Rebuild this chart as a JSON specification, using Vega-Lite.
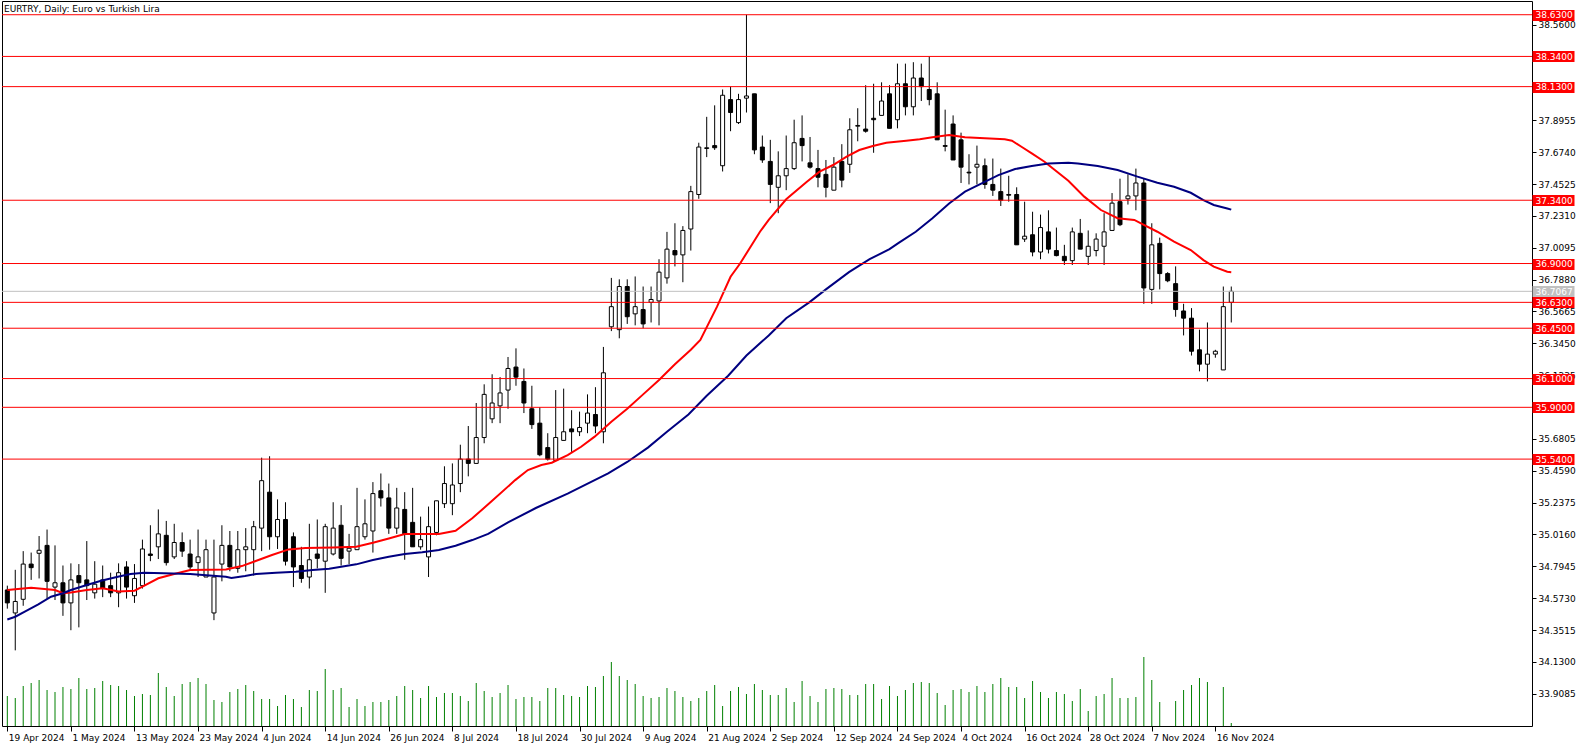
{
  "$schema": "https://vega.github.io/schema/vega-lite/v6.json",
  "width": 1530,
  "height": 725,
  "autosize": "none",
  "padding": {"left": 2, "top": 1, "right": 54, "bottom": 24},
  "background": "white",
  "config": {
    "view": {"stroke": "#000000", "strokeWidth": 1},
    "axis": {"labelFont": "DejaVu Sans", "labelFontSize": 9, "labelColor": "#000000", "grid": false, "domain": false}
  },
  "title": {"text": "EURTRY, Daily:  Euro vs Turkish Lira", "anchor": "start", "frame": "group", "orient": "top", "offset": -13, "dx": 2, "font": "DejaVu Sans", "fontSize": 9, "fontWeight": "normal", "color": "#000000"},
  "datasets": {
    "candles": [
      {"bar":0,"date":"2024-04-19","open":34.63,"high":34.66,"low":34.50,"close":34.54,"volume":30000},
      {"bar":1,"date":"2024-04-22","open":34.47,"high":34.77,"low":34.21,"close":34.55,"volume":28000},
      {"bar":2,"date":"2024-04-23","open":34.565,"high":34.90,"low":34.52,"close":34.81,"volume":40000},
      {"bar":3,"date":"2024-04-24","open":34.81,"high":34.89,"low":34.70,"close":34.785,"volume":43000},
      {"bar":4,"date":"2024-04-25","open":34.885,"high":35.005,"low":34.71,"close":34.906,"volume":46000},
      {"bar":5,"date":"2024-04-26","open":34.94,"high":35.05,"low":34.57,"close":34.69,"volume":36000},
      {"bar":6,"date":"2024-04-29","open":34.65,"high":34.94,"low":34.56,"close":34.68,"volume":34000},
      {"bar":7,"date":"2024-04-30","open":34.68,"high":34.80,"low":34.45,"close":34.54,"volume":39000},
      {"bar":8,"date":"2024-05-01","open":34.54,"high":34.815,"low":34.35,"close":34.70,"volume":37000},
      {"bar":9,"date":"2024-05-02","open":34.73,"high":34.81,"low":34.37,"close":34.68,"volume":48000},
      {"bar":10,"date":"2024-05-03","open":34.70,"high":34.97,"low":34.56,"close":34.66,"volume":37000},
      {"bar":11,"date":"2024-05-06","open":34.61,"high":34.83,"low":34.57,"close":34.67,"volume":38000},
      {"bar":12,"date":"2024-05-07","open":34.70,"high":34.80,"low":34.58,"close":34.64,"volume":45000},
      {"bar":13,"date":"2024-05-08","open":34.66,"high":34.75,"low":34.58,"close":34.61,"volume":41000},
      {"bar":14,"date":"2024-05-09","open":34.61,"high":34.815,"low":34.51,"close":34.75,"volume":40000},
      {"bar":15,"date":"2024-05-10","open":34.79,"high":34.83,"low":34.57,"close":34.65,"volume":36000},
      {"bar":16,"date":"2024-05-13","open":34.59,"high":34.81,"low":34.54,"close":34.71,"volume":30000},
      {"bar":17,"date":"2024-05-14","open":34.66,"high":34.98,"low":34.64,"close":34.915,"volume":32000},
      {"bar":18,"date":"2024-05-15","open":34.88,"high":35.08,"low":34.83,"close":34.87,"volume":31000},
      {"bar":19,"date":"2024-05-16","open":34.93,"high":35.19,"low":34.845,"close":35.02,"volume":53000},
      {"bar":20,"date":"2024-05-17","open":35.01,"high":35.11,"low":34.80,"close":34.82,"volume":39000},
      {"bar":21,"date":"2024-05-20","open":34.86,"high":35.09,"low":34.845,"close":34.96,"volume":30000},
      {"bar":22,"date":"2024-05-21","open":34.96,"high":35.03,"low":34.86,"close":34.90,"volume":42000},
      {"bar":23,"date":"2024-05-22","open":34.88,"high":34.98,"low":34.77,"close":34.79,"volume":44000},
      {"bar":24,"date":"2024-05-23","open":34.82,"high":35.05,"low":34.72,"close":34.86,"volume":48000},
      {"bar":25,"date":"2024-05-24","open":34.72,"high":34.98,"low":34.72,"close":34.91,"volume":42000},
      {"bar":26,"date":"2024-05-27","open":34.47,"high":34.98,"low":34.42,"close":34.72,"volume":26000},
      {"bar":27,"date":"2024-05-28","open":34.81,"high":35.08,"low":34.69,"close":34.94,"volume":24000},
      {"bar":28,"date":"2024-05-29","open":34.94,"high":35.04,"low":34.76,"close":34.79,"volume":34000},
      {"bar":29,"date":"2024-05-30","open":34.78,"high":35.04,"low":34.75,"close":34.91,"volume":37000},
      {"bar":30,"date":"2024-05-31","open":34.91,"high":35.06,"low":34.76,"close":34.93,"volume":41000},
      {"bar":31,"date":"2024-06-03","open":34.91,"high":35.11,"low":34.73,"close":35.07,"volume":35000},
      {"bar":32,"date":"2024-06-04","open":35.06,"high":35.55,"low":34.90,"close":35.39,"volume":27000},
      {"bar":33,"date":"2024-06-05","open":35.31,"high":35.56,"low":34.91,"close":35.00,"volume":27000},
      {"bar":34,"date":"2024-06-06","open":35.00,"high":35.26,"low":34.915,"close":35.12,"volume":20000},
      {"bar":35,"date":"2024-06-07","open":35.12,"high":35.24,"low":34.80,"close":34.83,"volume":31000},
      {"bar":36,"date":"2024-06-10","open":35.00,"high":35.03,"low":34.65,"close":34.79,"volume":27000},
      {"bar":37,"date":"2024-06-11","open":34.80,"high":34.93,"low":34.68,"close":34.71,"volume":19000},
      {"bar":38,"date":"2024-06-12","open":34.72,"high":35.09,"low":34.64,"close":34.84,"volume":36000},
      {"bar":39,"date":"2024-06-13","open":34.88,"high":35.12,"low":34.78,"close":34.85,"volume":35000},
      {"bar":40,"date":"2024-06-14","open":34.83,"high":35.09,"low":34.61,"close":35.07,"volume":57000},
      {"bar":41,"date":"2024-06-17","open":34.88,"high":35.24,"low":34.87,"close":35.06,"volume":36000},
      {"bar":42,"date":"2024-06-18","open":35.08,"high":35.22,"low":34.80,"close":34.85,"volume":38000},
      {"bar":43,"date":"2024-06-19","open":34.90,"high":35.02,"low":34.81,"close":34.92,"volume":19000},
      {"bar":44,"date":"2024-06-20","open":34.91,"high":35.34,"low":34.91,"close":35.07,"volume":27000},
      {"bar":45,"date":"2024-06-21","open":35.00,"high":35.26,"low":34.98,"close":35.09,"volume":20000},
      {"bar":46,"date":"2024-06-24","open":35.04,"high":35.38,"low":34.89,"close":35.30,"volume":24000},
      {"bar":47,"date":"2024-06-25","open":35.32,"high":35.44,"low":35.21,"close":35.27,"volume":24000},
      {"bar":48,"date":"2024-06-26","open":35.27,"high":35.37,"low":35.02,"close":35.06,"volume":26000},
      {"bar":49,"date":"2024-06-27","open":35.06,"high":35.34,"low":35.02,"close":35.20,"volume":30000},
      {"bar":50,"date":"2024-06-28","open":35.19,"high":35.31,"low":34.84,"close":35.02,"volume":40000},
      {"bar":51,"date":"2024-07-01","open":35.10,"high":35.34,"low":34.93,"close":34.93,"volume":36000},
      {"bar":52,"date":"2024-07-02","open":34.93,"high":35.14,"low":34.91,"close":34.98,"volume":28000},
      {"bar":53,"date":"2024-07-03","open":34.86,"high":35.21,"low":34.72,"close":35.07,"volume":40000},
      {"bar":54,"date":"2024-07-04","open":35.03,"high":35.25,"low":35.01,"close":35.25,"volume":29000},
      {"bar":55,"date":"2024-07-05","open":35.23,"high":35.49,"low":35.20,"close":35.37,"volume":33000},
      {"bar":56,"date":"2024-07-08","open":35.23,"high":35.51,"low":35.15,"close":35.36,"volume":33000},
      {"bar":57,"date":"2024-07-09","open":35.37,"high":35.64,"low":35.31,"close":35.54,"volume":30000},
      {"bar":58,"date":"2024-07-10","open":35.54,"high":35.77,"low":35.42,"close":35.51,"volume":25000},
      {"bar":59,"date":"2024-07-11","open":35.51,"high":35.93,"low":35.51,"close":35.69,"volume":43000},
      {"bar":60,"date":"2024-07-12","open":35.69,"high":36.06,"low":35.65,"close":35.99,"volume":35000},
      {"bar":61,"date":"2024-07-15","open":35.82,"high":36.13,"low":35.79,"close":35.93,"volume":29000},
      {"bar":62,"date":"2024-07-16","open":35.91,"high":36.11,"low":35.79,"close":36.00,"volume":33000},
      {"bar":63,"date":"2024-07-17","open":36.02,"high":36.25,"low":35.89,"close":36.17,"volume":41000},
      {"bar":64,"date":"2024-07-18","open":36.18,"high":36.31,"low":36.05,"close":36.11,"volume":27000},
      {"bar":65,"date":"2024-07-19","open":36.08,"high":36.17,"low":35.86,"close":35.93,"volume":29000},
      {"bar":66,"date":"2024-07-22","open":35.89,"high":36.05,"low":35.75,"close":35.78,"volume":29000},
      {"bar":67,"date":"2024-07-23","open":35.79,"high":35.90,"low":35.56,"close":35.57,"volume":25000},
      {"bar":68,"date":"2024-07-24","open":35.62,"high":35.72,"low":35.53,"close":35.54,"volume":38000},
      {"bar":69,"date":"2024-07-25","open":35.53,"high":36.02,"low":35.53,"close":35.69,"volume":38000},
      {"bar":70,"date":"2024-07-26","open":35.67,"high":36.03,"low":35.67,"close":35.73,"volume":31000},
      {"bar":71,"date":"2024-07-29","open":35.75,"high":35.88,"low":35.59,"close":35.73,"volume":30000},
      {"bar":72,"date":"2024-07-30","open":35.73,"high":35.87,"low":35.70,"close":35.76,"volume":29000},
      {"bar":73,"date":"2024-07-31","open":35.79,"high":35.99,"low":35.72,"close":35.86,"volume":40000},
      {"bar":74,"date":"2024-08-01","open":35.85,"high":36.04,"low":35.72,"close":35.77,"volume":39000},
      {"bar":75,"date":"2024-08-02","open":35.73,"high":36.32,"low":35.65,"close":36.14,"volume":50000},
      {"bar":76,"date":"2024-08-05","open":36.46,"high":36.80,"low":36.43,"close":36.60,"volume":64000},
      {"bar":77,"date":"2024-08-06","open":36.44,"high":36.79,"low":36.38,"close":36.74,"volume":50000},
      {"bar":78,"date":"2024-08-07","open":36.74,"high":36.79,"low":36.48,"close":36.53,"volume":46000},
      {"bar":79,"date":"2024-08-08","open":36.55,"high":36.81,"low":36.47,"close":36.60,"volume":42000},
      {"bar":80,"date":"2024-08-09","open":36.58,"high":36.74,"low":36.45,"close":36.48,"volume":30000},
      {"bar":81,"date":"2024-08-12","open":36.63,"high":36.74,"low":36.49,"close":36.65,"volume":28000},
      {"bar":82,"date":"2024-08-13","open":36.64,"high":36.93,"low":36.47,"close":36.84,"volume":29000},
      {"bar":83,"date":"2024-08-14","open":36.80,"high":37.12,"low":36.76,"close":37.00,"volume":38000},
      {"bar":84,"date":"2024-08-15","open":36.99,"high":37.18,"low":36.88,"close":36.96,"volume":35000},
      {"bar":85,"date":"2024-08-16","open":36.96,"high":37.16,"low":36.77,"close":37.13,"volume":29000},
      {"bar":86,"date":"2024-08-19","open":37.14,"high":37.44,"low":36.99,"close":37.40,"volume":25000},
      {"bar":87,"date":"2024-08-20","open":37.38,"high":37.74,"low":37.35,"close":37.71,"volume":28000},
      {"bar":88,"date":"2024-08-21","open":37.70,"high":37.92,"low":37.64,"close":37.705,"volume":35000},
      {"bar":89,"date":"2024-08-22","open":37.72,"high":38.00,"low":37.69,"close":37.705,"volume":41000},
      {"bar":90,"date":"2024-08-23","open":37.58,"high":38.11,"low":37.54,"close":38.07,"volume":20000},
      {"bar":91,"date":"2024-08-26","open":38.04,"high":38.13,"low":37.82,"close":37.95,"volume":35000},
      {"bar":92,"date":"2024-08-27","open":37.88,"high":38.08,"low":37.87,"close":38.04,"volume":39000},
      {"bar":93,"date":"2024-08-28","open":38.05,"high":38.63,"low":37.95,"close":38.065,"volume":32000},
      {"bar":94,"date":"2024-08-29","open":38.08,"high":38.08,"low":37.66,"close":37.69,"volume":42000},
      {"bar":95,"date":"2024-08-30","open":37.71,"high":37.79,"low":37.60,"close":37.62,"volume":36000},
      {"bar":96,"date":"2024-09-02","open":37.61,"high":37.76,"low":37.32,"close":37.45,"volume":31000},
      {"bar":97,"date":"2024-09-03","open":37.43,"high":37.68,"low":37.25,"close":37.51,"volume":31000},
      {"bar":98,"date":"2024-09-04","open":37.51,"high":37.79,"low":37.41,"close":37.56,"volume":38000},
      {"bar":99,"date":"2024-09-05","open":37.56,"high":37.90,"low":37.55,"close":37.74,"volume":24000},
      {"bar":100,"date":"2024-09-06","open":37.77,"high":37.93,"low":37.61,"close":37.72,"volume":45000},
      {"bar":101,"date":"2024-09-09","open":37.60,"high":37.78,"low":37.56,"close":37.57,"volume":30000},
      {"bar":102,"date":"2024-09-10","open":37.56,"high":37.69,"low":37.43,"close":37.50,"volume":24000},
      {"bar":103,"date":"2024-09-11","open":37.52,"high":37.62,"low":37.36,"close":37.43,"volume":37000},
      {"bar":104,"date":"2024-09-12","open":37.41,"high":37.64,"low":37.41,"close":37.57,"volume":38000},
      {"bar":105,"date":"2024-09-13","open":37.61,"high":37.73,"low":37.43,"close":37.48,"volume":37000},
      {"bar":106,"date":"2024-09-16","open":37.59,"high":37.91,"low":37.53,"close":37.83,"volume":31000},
      {"bar":107,"date":"2024-09-17","open":37.855,"high":37.98,"low":37.75,"close":37.86,"volume":31000},
      {"bar":108,"date":"2024-09-18","open":37.835,"high":38.14,"low":37.81,"close":37.82,"volume":42000},
      {"bar":109,"date":"2024-09-19","open":37.91,"high":38.15,"low":37.67,"close":37.90,"volume":42000},
      {"bar":110,"date":"2024-09-20","open":37.93,"high":38.16,"low":37.93,"close":38.03,"volume":27000},
      {"bar":111,"date":"2024-09-23","open":38.08,"high":38.14,"low":37.84,"close":37.84,"volume":40000},
      {"bar":112,"date":"2024-09-24","open":37.90,"high":38.29,"low":37.84,"close":38.15,"volume":30000},
      {"bar":113,"date":"2024-09-25","open":38.15,"high":38.29,"low":37.93,"close":37.99,"volume":36000},
      {"bar":114,"date":"2024-09-26","open":37.99,"high":38.30,"low":37.93,"close":38.19,"volume":43000},
      {"bar":115,"date":"2024-09-27","open":38.19,"high":38.29,"low":38.03,"close":38.13,"volume":44000},
      {"bar":116,"date":"2024-09-30","open":38.11,"high":38.34,"low":38.00,"close":38.04,"volume":43000},
      {"bar":117,"date":"2024-10-01","open":38.08,"high":38.16,"low":37.76,"close":37.76,"volume":33000},
      {"bar":118,"date":"2024-10-02","open":37.72,"high":37.97,"low":37.68,"close":37.715,"volume":21000},
      {"bar":119,"date":"2024-10-03","open":37.87,"high":37.93,"low":37.62,"close":37.62,"volume":36000},
      {"bar":120,"date":"2024-10-04","open":37.76,"high":37.81,"low":37.46,"close":37.57,"volume":37000},
      {"bar":121,"date":"2024-10-07","open":37.535,"high":37.66,"low":37.45,"close":37.53,"volume":34000},
      {"bar":122,"date":"2024-10-08","open":37.57,"high":37.72,"low":37.45,"close":37.59,"volume":40000},
      {"bar":123,"date":"2024-10-09","open":37.58,"high":37.63,"low":37.42,"close":37.45,"volume":34000},
      {"bar":124,"date":"2024-10-10","open":37.45,"high":37.63,"low":37.37,"close":37.41,"volume":42000},
      {"bar":125,"date":"2024-10-11","open":37.40,"high":37.56,"low":37.30,"close":37.34,"volume":48000},
      {"bar":126,"date":"2024-10-14","open":37.38,"high":37.51,"low":37.33,"close":37.375,"volume":39000},
      {"bar":127,"date":"2024-10-15","open":37.38,"high":37.43,"low":37.03,"close":37.03,"volume":39000},
      {"bar":128,"date":"2024-10-16","open":37.07,"high":37.33,"low":37.05,"close":37.09,"volume":28000},
      {"bar":129,"date":"2024-10-17","open":37.10,"high":37.26,"low":36.95,"close":36.98,"volume":45000},
      {"bar":130,"date":"2024-10-18","open":36.98,"high":37.24,"low":36.93,"close":37.15,"volume":34000},
      {"bar":131,"date":"2024-10-21","open":37.12,"high":37.27,"low":36.97,"close":37.00,"volume":28000},
      {"bar":132,"date":"2024-10-22","open":36.99,"high":37.15,"low":36.95,"close":36.955,"volume":34000},
      {"bar":133,"date":"2024-10-23","open":36.95,"high":37.03,"low":36.89,"close":36.92,"volume":32000},
      {"bar":134,"date":"2024-10-24","open":36.92,"high":37.15,"low":36.89,"close":37.12,"volume":25000},
      {"bar":135,"date":"2024-10-25","open":37.11,"high":37.21,"low":37.00,"close":37.00,"volume":37000},
      {"bar":136,"date":"2024-10-28","open":36.95,"high":37.13,"low":36.89,"close":37.02,"volume":15000},
      {"bar":137,"date":"2024-10-29","open":36.99,"high":37.11,"low":36.95,"close":37.07,"volume":30000},
      {"bar":138,"date":"2024-10-30","open":37.02,"high":37.25,"low":36.89,"close":37.12,"volume":32000},
      {"bar":139,"date":"2024-10-31","open":37.13,"high":37.39,"low":37.13,"close":37.32,"volume":48000},
      {"bar":140,"date":"2024-11-01","open":37.33,"high":37.49,"low":37.16,"close":37.17,"volume":28000},
      {"bar":141,"date":"2024-11-04","open":37.35,"high":37.52,"low":37.31,"close":37.37,"volume":28000},
      {"bar":142,"date":"2024-11-05","open":37.37,"high":37.56,"low":37.27,"close":37.46,"volume":29000},
      {"bar":143,"date":"2024-11-06","open":37.46,"high":37.49,"low":36.62,"close":36.73,"volume":69000},
      {"bar":144,"date":"2024-11-07","open":36.72,"high":37.18,"low":36.62,"close":37.03,"volume":46000},
      {"bar":145,"date":"2024-11-08","open":37.04,"high":37.08,"low":36.72,"close":36.83,"volume":24000},
      {"bar":146,"date":"2024-11-09","open":36.83,"high":36.84,"low":36.77,"close":36.78,"volume":0},
      {"bar":147,"date":"2024-11-11","open":36.76,"high":36.88,"low":36.53,"close":36.58,"volume":25000},
      {"bar":148,"date":"2024-11-12","open":36.57,"high":36.62,"low":36.40,"close":36.52,"volume":36000},
      {"bar":149,"date":"2024-11-13","open":36.52,"high":36.59,"low":36.26,"close":36.29,"volume":41000},
      {"bar":150,"date":"2024-11-14","open":36.30,"high":36.44,"low":36.15,"close":36.20,"volume":48000},
      {"bar":151,"date":"2024-11-15","open":36.20,"high":36.49,"low":36.08,"close":36.27,"volume":44000},
      {"bar":152,"date":"2024-11-16","open":36.27,"high":36.30,"low":36.245,"close":36.29,"volume":0},
      {"bar":153,"date":"2024-11-18","open":36.16,"high":36.74,"low":36.16,"close":36.60,"volume":39000},
      {"bar":154,"date":"2024-11-19","open":36.63,"high":36.74,"low":36.49,"close":36.7067,"volume":3000}
    ],
    "ma": [
      {"series":"fast","bar":0,"value":34.63},{"series":"fast","bar":3,"value":34.646},{"series":"fast","bar":6,"value":34.63},{"series":"fast","bar":7,"value":34.607},{"series":"fast","bar":8,"value":34.612},{"series":"fast","bar":10,"value":34.63},{"series":"fast","bar":12,"value":34.642},{"series":"fast","bar":14,"value":34.619},{"series":"fast","bar":16,"value":34.625},{"series":"fast","bar":17,"value":34.653},{"series":"fast","bar":19,"value":34.711},{"series":"fast","bar":21,"value":34.741},{"series":"fast","bar":23,"value":34.769},{"series":"fast","bar":27.5,"value":34.773},{"series":"fast","bar":29.5,"value":34.796},{"series":"fast","bar":31,"value":34.826},{"series":"fast","bar":33.3,"value":34.873},{"series":"fast","bar":35.4,"value":34.912},{"series":"fast","bar":37.5,"value":34.921},{"series":"fast","bar":41,"value":34.926},{"series":"fast","bar":43.9,"value":34.93},{"series":"fast","bar":46,"value":34.958},{"series":"fast","bar":48,"value":34.988},{"series":"fast","bar":50,"value":35.019},{"series":"fast","bar":54.3,"value":35.019},{"series":"fast","bar":56.4,"value":35.042},{"series":"fast","bar":58.5,"value":35.128},{"series":"fast","bar":61,"value":35.25},{"series":"fast","bar":63.9,"value":35.394},{"series":"fast","bar":65.5,"value":35.464},{"series":"fast","bar":67.2,"value":35.499},{"series":"fast","bar":68.5,"value":35.515},{"series":"fast","bar":70.5,"value":35.568},{"series":"fast","bar":72.2,"value":35.626},{"series":"fast","bar":73.9,"value":35.696},{"series":"fast","bar":76,"value":35.80},{"series":"fast","bar":78,"value":35.89},{"series":"fast","bar":80,"value":35.99},{"series":"fast","bar":82,"value":36.09},{"series":"fast","bar":84,"value":36.20},{"series":"fast","bar":86,"value":36.30},{"series":"fast","bar":87.2,"value":36.368},{"series":"fast","bar":89.3,"value":36.60},{"series":"fast","bar":91,"value":36.808},{"series":"fast","bar":92.2,"value":36.90},{"series":"fast","bar":94.7,"value":37.121},{"series":"fast","bar":95.8,"value":37.203},{"series":"fast","bar":98,"value":37.347},{"series":"fast","bar":100.6,"value":37.469},{"series":"fast","bar":102.2,"value":37.539},{"series":"fast","bar":103.9,"value":37.585},{"series":"fast","bar":105.6,"value":37.643},{"series":"fast","bar":107.2,"value":37.689},{"series":"fast","bar":108.9,"value":37.717},{"series":"fast","bar":110.6,"value":37.74},{"series":"fast","bar":113.1,"value":37.754},{"series":"fast","bar":114.8,"value":37.764},{"series":"fast","bar":116.4,"value":37.778},{"series":"fast","bar":118.5,"value":37.794},{"series":"fast","bar":120.5,"value":37.778},{"series":"fast","bar":123,"value":37.771},{"series":"fast","bar":125.5,"value":37.764},{"series":"fast","bar":126.4,"value":37.754},{"series":"fast","bar":127.6,"value":37.712},{"series":"fast","bar":128.9,"value":37.666},{"series":"fast","bar":130.5,"value":37.608},{"series":"fast","bar":131.8,"value":37.55},{"series":"fast","bar":133.5,"value":37.476},{"series":"fast","bar":135.5,"value":37.365},{"series":"fast","bar":137.6,"value":37.272},{"series":"fast","bar":139.7,"value":37.215},{"series":"fast","bar":141.8,"value":37.203},{"series":"fast","bar":143,"value":37.168},{"series":"fast","bar":144.7,"value":37.121},{"series":"fast","bar":146.8,"value":37.052},{"series":"fast","bar":148.9,"value":36.994},{"series":"fast","bar":150.5,"value":36.924},{"series":"fast","bar":151.8,"value":36.878},{"series":"fast","bar":153.5,"value":36.843},{"series":"fast","bar":154,"value":36.84},
      {"series":"slow","bar":0,"value":34.425},{"series":"slow","bar":1,"value":34.444},{"series":"slow","bar":2.2,"value":34.479},{"series":"slow","bar":3.9,"value":34.53},{"series":"slow","bar":5.5,"value":34.583},{"series":"slow","bar":7,"value":34.607},{"series":"slow","bar":8,"value":34.63},{"series":"slow","bar":10,"value":34.664},{"series":"slow","bar":11.8,"value":34.694},{"series":"slow","bar":13.9,"value":34.722},{"series":"slow","bar":15.5,"value":34.741},{"series":"slow","bar":17.2,"value":34.75},{"series":"slow","bar":19.7,"value":34.746},{"series":"slow","bar":23,"value":34.741},{"series":"slow","bar":27.5,"value":34.722},{"series":"slow","bar":28.2,"value":34.713},{"series":"slow","bar":29.9,"value":34.727},{"series":"slow","bar":31.3,"value":34.741},{"series":"slow","bar":33.8,"value":34.75},{"series":"slow","bar":36.3,"value":34.757},{"series":"slow","bar":38.4,"value":34.769},{"series":"slow","bar":40.5,"value":34.778},{"series":"slow","bar":43.9,"value":34.808},{"series":"slow","bar":46,"value":34.838},{"series":"slow","bar":48,"value":34.861},{"series":"slow","bar":50,"value":34.88},{"series":"slow","bar":52.2,"value":34.892},{"series":"slow","bar":54.3,"value":34.908},{"series":"slow","bar":56.4,"value":34.937},{"series":"slow","bar":58.5,"value":34.977},{"series":"slow","bar":60.5,"value":35.02},{"series":"slow","bar":63,"value":35.1},{"series":"slow","bar":66.5,"value":35.2},{"series":"slow","bar":70.5,"value":35.3},{"series":"slow","bar":75.6,"value":35.44},{"series":"slow","bar":78,"value":35.52},{"series":"slow","bar":80.6,"value":35.62},{"series":"slow","bar":83,"value":35.73},{"series":"slow","bar":85.7,"value":35.85},{"series":"slow","bar":88,"value":35.98},{"series":"slow","bar":90.7,"value":36.12},{"series":"slow","bar":93,"value":36.26},{"series":"slow","bar":95.8,"value":36.4},{"series":"slow","bar":98,"value":36.52},{"series":"slow","bar":100.9,"value":36.63},{"series":"slow","bar":103,"value":36.72},{"series":"slow","bar":105.9,"value":36.84},{"series":"slow","bar":108.5,"value":36.93},{"series":"slow","bar":111,"value":37.0},{"series":"slow","bar":112.2,"value":37.045},{"series":"slow","bar":114.3,"value":37.121},{"series":"slow","bar":116.4,"value":37.215},{"series":"slow","bar":118.5,"value":37.318},{"series":"slow","bar":120.5,"value":37.4},{"series":"slow","bar":122.6,"value":37.458},{"series":"slow","bar":124.7,"value":37.515},{"series":"slow","bar":126.8,"value":37.557},{"series":"slow","bar":128.9,"value":37.578},{"series":"slow","bar":131,"value":37.596},{"series":"slow","bar":133.5,"value":37.601},{"series":"slow","bar":134.7,"value":37.596},{"series":"slow","bar":137.2,"value":37.578},{"series":"slow","bar":139.7,"value":37.55},{"series":"slow","bar":142.2,"value":37.504},{"series":"slow","bar":144.7,"value":37.462},{"series":"slow","bar":146.8,"value":37.434},{"series":"slow","bar":148.9,"value":37.392},{"series":"slow","bar":150.5,"value":37.341},{"series":"slow","bar":151.8,"value":37.307},{"series":"slow","bar":153.5,"value":37.283},{"series":"slow","bar":154,"value":37.275}
    ],
    "levels": [
      {"price":38.63,"kind":"level"},{"price":38.34,"kind":"level"},{"price":38.13,"kind":"level"},{"price":37.34,"kind":"level"},{"price":36.90,"kind":"level"},{"price":36.63,"kind":"level"},{"price":36.45,"kind":"level"},{"price":36.10,"kind":"level"},{"price":35.90,"kind":"level"},{"price":35.54,"kind":"level"},{"price":36.7067,"kind":"bid"}
    ]
  },
  "resolve": {"scale": {"y": "independent"}, "axis": {"y": "independent"}},
  "layer": [
    {
      "data": {"name": "candles"},
      "mark": {"type": "bar", "width": 1, "color": "#008000", "clip": true},
      "encoding": {
        "x": {"field": "bar", "type": "quantitative", "title": null,
          "scale": {"domain": [-0.04, 191.21], "nice": false, "zero": false},
          "axis": {"values": [0,8,16,24,32,40,48,56,64,72,80,88,96,104,112,120,128,136,144,152],
            "labelExpr": "['19 Apr 2024','1 May 2024','13 May 2024','23 May 2024','4 Jun 2024','14 Jun 2024','26 Jun 2024','8 Jul 2024','18 Jul 2024','30 Jul 2024','9 Aug 2024','21 Aug 2024','2 Sep 2024','12 Sep 2024','24 Sep 2024','4 Oct 2024','16 Oct 2024','28 Oct 2024','7 Nov 2024','16 Nov 2024'][round(datum.value/8)]",
            "orient": "bottom", "tickSize": 5, "tickColor": "#000000", "labelAlign": "left", "labelBaseline": "top", "labelPadding": 2, "labelOffset": 1, "labelOverlap": false, "labelFlush": false, "labelBound": false, "domain": false, "grid": false}},
        "y": {"field": "volume", "type": "quantitative", "title": null, "scale": {"domain": [0, 725000], "nice": false, "zero": true}, "axis": null}
      }
    },
    {
      "data": {"name": "candles"},
      "mark": {"type": "rule", "color": "#000000", "strokeWidth": 1, "clip": true},
      "encoding": {
        "x": {"field": "bar", "type": "quantitative", "title": null, "scale": {"domain": [-0.04, 191.21], "nice": false, "zero": false}},
        "y": {"field": "low", "type": "quantitative", "title": null,
          "scale": {"domain": [33.684, 38.7255], "nice": false, "zero": false},
          "axis": {"orient": "right", "values": [38.56,37.8955,37.674,37.4525,37.231,37.0095,36.788,36.5665,36.345,36.1235,35.6805,35.459,35.2375,35.016,34.7945,34.573,34.3515,34.13,33.9085],
            "format": ".4f", "tickSize": 4, "tickColor": "#000000", "labelPadding": 2, "labelColor": "#000000", "labelOverlap": false, "labelFlush": false, "labelBound": false, "domain": false, "grid": false, "zindex": 1}},
        "y2": {"field": "high"}
      }
    },
    {
      "data": {"name": "candles"},
      "mark": {"type": "bar", "width": 4, "stroke": "#000000", "strokeWidth": 1, "orient": "vertical", "clip": true},
      "encoding": {
        "x": {"field": "bar", "type": "quantitative", "title": null, "scale": {"domain": [-0.04, 191.21], "nice": false, "zero": false}},
        "y": {"field": "open", "type": "quantitative", "title": null, "scale": {"domain": [33.684, 38.7255], "nice": false, "zero": false}, "axis": null},
        "y2": {"field": "close"},
        "fill": {"condition": {"test": "datum.close >= datum.open", "value": "#ffffff"}, "value": "#000000"}
      }
    },
    {
      "data": {"name": "ma"},
      "mark": {"type": "line", "strokeWidth": 2, "clip": true},
      "encoding": {
        "x": {"field": "bar", "type": "quantitative", "title": null, "scale": {"domain": [-0.04, 191.21], "nice": false, "zero": false}},
        "y": {"field": "value", "type": "quantitative", "title": null, "scale": {"domain": [33.684, 38.7255], "nice": false, "zero": false}, "axis": null},
        "color": {"field": "series", "type": "nominal", "scale": {"domain": ["fast", "slow"], "range": ["#ff0000", "#000080"]}, "legend": null},
        "order": {"field": "bar", "type": "quantitative"}
      }
    },
    {
      "data": {"name": "levels"},
      "mark": {"type": "rule", "strokeWidth": 1},
      "encoding": {
        "y": {"field": "price", "type": "quantitative", "title": null,
          "scale": {"domain": [33.684, 38.7255], "nice": false, "zero": false},
          "axis": {"orient": "right", "values": [38.63,38.34,38.13,37.34,36.9,36.7067,36.63,36.45,36.1,35.9,35.54],
            "format": ".4f", "tickSize": 42, "tickWidth": 11,
            "tickColor": {"condition": {"test": "datum.value > 36.7 && datum.value < 36.71", "value": "#c0c0c0"}, "value": "#ff0000"},
            "labelPadding": -39, "labelColor": "#ffffff", "labelAlign": "left", "labelOverlap": false, "labelFlush": false, "labelBound": false, "domain": false, "grid": false, "zindex": 2}},
        "color": {"condition": {"test": "datum.kind === 'bid'", "value": "#c0c0c0"}, "value": "#ff0000"}
      }
    }
  ]
}
